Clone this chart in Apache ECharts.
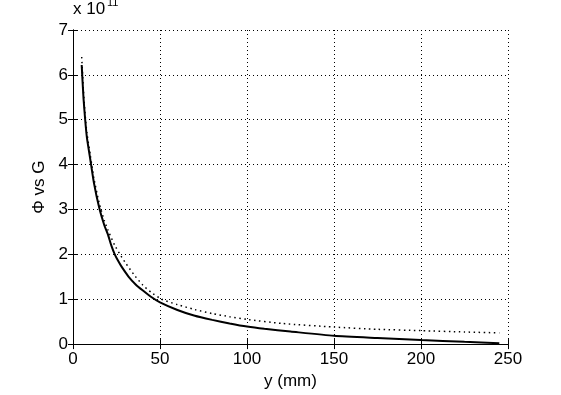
<!DOCTYPE html>
<html>
<head>
<meta charset="utf-8">
<script src="https://cdn.jsdelivr.net/npm/echarts@6/dist/echarts.min.js"></script>
<style>
  html, body { margin: 0; padding: 0; background: #fff; }
  #chart { width: 561px; height: 395px; }
</style>
</head>
<body>
<div id="chart"></div>
<script>
// values in units of 1e11
var solidX = [5, 6, 7, 8, 10, 12, 15, 18, 20, 22, 24, 26, 28, 32, 36, 40, 45, 50, 60, 70, 80, 90, 100, 110, 125, 150, 175, 200, 225, 245];
var solidY = [6.22, 5.5, 5.0, 4.6, 4.1, 3.6, 3.05, 2.65, 2.45, 2.2, 2.0, 1.85, 1.72, 1.5, 1.33, 1.2, 1.05, 0.93, 0.76, 0.63, 0.54, 0.46, 0.39, 0.34, 0.28, 0.185, 0.135, 0.09, 0.05, 0.02];
var dotX = [5, 6, 7, 8, 10, 12, 15, 18, 20, 24, 27, 30, 35, 40, 45, 51, 60, 70, 80, 90, 100, 120, 150, 175, 200, 225, 245];
var dotY = [6.4, 5.65, 5.1, 4.7, 4.2, 3.7, 3.15, 2.75, 2.55, 2.2, 2.0, 1.82, 1.55, 1.32, 1.15, 1.0, 0.88, 0.77, 0.68, 0.61, 0.55, 0.46, 0.38, 0.33, 0.3, 0.27, 0.25];
var xTicks = [0, 50, 100, 150, 200, 250];
var yTicks = [0, 1, 2, 3, 4, 5, 6, 7];

var font = 'Liberation Sans, Arial, sans-serif';

var chart = echarts.init(document.getElementById('chart'));

function pairs(xs, ys) {
    return xs.map(function (x, i) { return [x, ys[i]]; });
}

var gridLine = { show: true, lineStyle: { color: '#000', type: [1, 3], width: 1 } };

var option = {
    animation: false,
    backgroundColor: '#fff',
    grid: { left: 73, right: 53, top: 30, bottom: 50 },
    xAxis: [
        {
            type: 'value', min: 0, max: 250, interval: 50,
            name: 'y (mm)', nameLocation: 'middle', nameGap: 27,
            nameTextStyle: { fontFamily: font, fontSize: 17, color: '#000' },
            axisLine: { lineStyle: { color: '#000', width: 1 } },
            axisTick: { inside: true, length: 5, lineStyle: { color: '#000' } },
            axisLabel: { fontFamily: font, fontSize: 17, color: '#000', margin: 7,
                formatter: function (v) { return xTicks.indexOf(v) >= 0 ? String(v) : ''; } },
            splitLine: gridLine
        },
        {
            type: 'value', min: 0, max: 250, interval: 50, position: 'top',
            axisLine: { lineStyle: { color: '#000', width: 1 } },
            axisTick: { inside: true, length: 5, lineStyle: { color: '#000' } },
            axisLabel: { show: false },
            splitLine: { show: false }
        }
    ],
    yAxis: [
        {
            type: 'value', min: 0, max: 7, interval: 1,
            name: 'Φ vs G', nameLocation: 'middle', nameGap: 23, nameRotate: 90,
            nameTextStyle: { fontFamily: font, fontSize: 17, color: '#000' },
            axisLine: { lineStyle: { color: '#000', width: 1 } },
            axisTick: { inside: true, length: 5, lineStyle: { color: '#000' } },
            axisLabel: { fontFamily: font, fontSize: 17, color: '#000', margin: 5,
                formatter: function (v) { return yTicks.indexOf(v) >= 0 ? String(v) : ''; } },
            splitLine: gridLine
        },
        {
            type: 'value', min: 0, max: 7, interval: 1, position: 'right',
            axisLine: { lineStyle: { color: '#000', width: 1 } },
            axisTick: { inside: true, length: 5, lineStyle: { color: '#000' } },
            axisLabel: { show: false },
            splitLine: { show: false }
        }
    ],
    graphic: [
        {
            type: 'text', left: 73, top: 1,
            style: { text: 'x 10', fontFamily: font, fontSize: 17, fill: '#000' }
        },
        {
            type: 'text', left: 107, top: -3,
            style: { text: '11', fontFamily: font, fontSize: 11, fill: '#000' }
        }
    ],
    series: [
        {
            type: 'line', data: pairs(solidX, solidY), showSymbol: false, smooth: 0.2,
            lineStyle: { color: '#000', width: 2 }
        },
        {
            type: 'line', data: pairs(dotX, dotY), showSymbol: false, smooth: 0.2,
            lineStyle: { color: '#000', width: 1.5, type: [1.5, 3.5] }
        }
    ]
};

chart.setOption(option);
</script>
</body>
</html>
